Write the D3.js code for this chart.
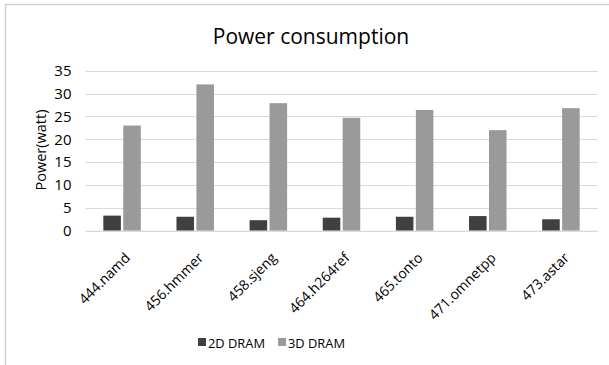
<!DOCTYPE html>
<html><head><meta charset="utf-8">
<script src="https://cdn.jsdelivr.net/npm/d3@7"></script>
<style>body{margin:0;background:#fff}svg{display:block;font-family:"Open Sans","Noto Sans",sans-serif}</style>
</head><body><svg id="c" width="609" height="365"></svg>
<script>
const categories = ["444.namd","456.hmmer","458.sjeng","464.h264ref","465.tonto","471.omnetpp","473.astar"];
const series2D = [3.3, 3.05, 2.3, 2.85, 3.05, 3.2, 2.5];
const series3D = [23.0, 32.0, 27.9, 24.7, 26.4, 22.0, 26.8];
const seriesNames = ["2D DRAM","3D DRAM"];
const yTicks = [0,5,10,15,20,25,30,35];
const colors = ["#404040","#9a9a9a"];

const svg = d3.select("#c");
svg.append("rect").attr("x",5.5).attr("y",4.5).attr("width",620).attr("height",380)
  .attr("fill","#fff").attr("stroke","#d0d0d0").attr("stroke-width",1.5);

const x = d3.scaleBand().domain(categories).range([85.5,597.5]);
const y = d3.scaleLinear().domain([0,35]).range([230.7,70.7]);
const sub = d3.scaleBand().domain(seriesNames).range([0,37.5]).paddingInner(0.12);

svg.append("text").attr("x",311).attr("y",44).attr("text-anchor","middle")
  .attr("font-size",21).attr("fill","#000").text("Power consumption");

const grid = svg.append("g");
yTicks.forEach(t=>{
  grid.append("line").attr("x1",85.5).attr("x2",597.5).attr("y1",Math.round(y(t))+0.5).attr("y2",Math.round(y(t))+0.5)
    .attr("stroke","#d9d9d9").attr("stroke-width",1);
});
const yAxis = svg.append("g").attr("transform","translate(85.5,0)")
  .call(d3.axisLeft(y).tickValues(yTicks).tickSize(0).tickPadding(14));
yAxis.select(".domain").remove();
yAxis.selectAll("text").attr("font-size",15).attr("fill","#000").attr("font-family",'"Open Sans","Noto Sans",sans-serif');

svg.append("text").attr("transform","translate(46,150) rotate(-90)").attr("text-anchor","middle")
  .attr("font-size",14.5).attr("fill","#000").text("Power(watt)");

const data = categories.map((c,i)=>({c, v:[series2D[i], series3D[i]]}));
const groups = svg.append("g").selectAll("g").data(data).join("g")
  .attr("transform",d=>`translate(${x(d.c)+x.bandwidth()/2-18.75},0)`);
groups.selectAll("rect").data(d=>d.v.map((v,j)=>({v,s:seriesNames[j],j}))).join("rect")
  .attr("x",d=>sub(d.s)).attr("width",sub.bandwidth())
  .attr("y",d=>y(d.v)).attr("height",d=>y(0)-y(d.v))
  .attr("fill",d=>colors[d.j]);

const xAxis = svg.append("g").attr("transform","translate(0,230.7)")
  .call(d3.axisBottom(x).tickSize(0).tickPadding(0));
xAxis.select(".domain").attr("stroke","#d9d9d9");
xAxis.selectAll("text").attr("font-size",14).attr("fill","#000")
  .attr("font-family",'"Open Sans","Noto Sans",sans-serif')
  .attr("text-anchor","end").attr("dy",null)
  .attr("transform","translate(9,28) rotate(-45)");

const leg = svg.append("g");
const legX = [198, 278];
seriesNames.forEach((n,i)=>{
  leg.append("rect").attr("x",legX[i]).attr("y",338).attr("width",8).attr("height",8).attr("fill",colors[i]);
  leg.append("text").attr("x",legX[i]+10).attr("y",347.5).attr("font-size",13.5)
    .attr("textLength",57).attr("lengthAdjust","spacingAndGlyphs").attr("fill","#000").text(n);
});
</script></body></html>
